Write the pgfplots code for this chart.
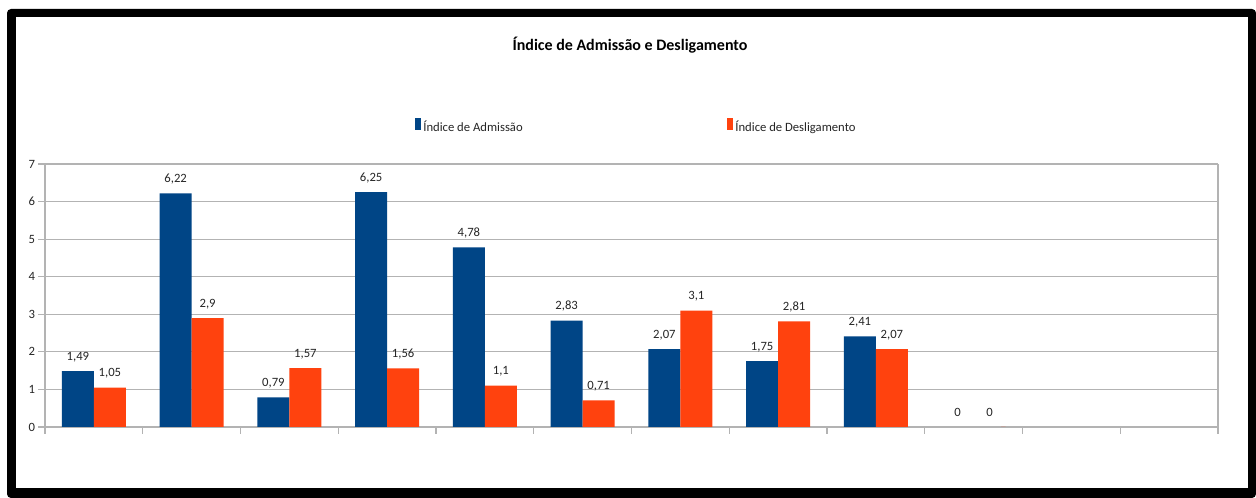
\documentclass[border=0pt]{standalone}
\usepackage{fontspec}
\setmainfont{Carlito}
\usepackage{pgfplots}
\pgfplotsset{compat=1.18}
\definecolor{adm}{HTML}{004586}
\definecolor{desl}{HTML}{FF420E}
\definecolor{gridc}{HTML}{B3B3B3}
\definecolor{txt}{HTML}{262626}
\begin{document}
\begin{tikzpicture}
\fill[white] (0pt,0pt) rectangle (942pt,373.5pt);
\fill[black,rounded corners=3pt] (5.25pt,0pt) rectangle (942pt,366.75pt);
\fill[white] (12pt,7.5pt) rectangle (936pt,360.75pt);
\begin{axis}[
  at={(33.75pt,53.25pt)}, anchor=south west,
  scale only axis, width=879.75pt, height=197.25pt,
  xmin=-0.5, xmax=11.5, ymin=0, ymax=7,
  ybar=0pt, bar width=24pt,
  xtick={-0.5,0.5,...,11.5}, xticklabels={},
  ytick={0,1,...,7}, ytick pos=left,
  tick align=outside, major tick length=5pt,
  ymajorgrids, grid style={gridc, line width=0.8pt},
  axis line style={gridc, line width=0.8pt},
  tick style={gridc, line width=0.8pt},
  axis x line*=bottom,
  /pgf/number format/assume math mode=true,
  tick label style={font=\fontsize{9.5}{11}\selectfont, text=txt},
  yticklabel style={xshift=1pt},
  nodes near coords={\pgfmathprintnumber[use comma,fixed,precision=2]{\pgfplotspointmeta}},
  every node near coord/.append style={font=\fontsize{9.5}{11}\selectfont, text=txt, anchor=base, yshift=8pt},
  title={\bfseries Índice de Admissão e Desligamento},
  title style={at={(rel axis cs:0.4987,1.422)}, anchor=center, font=\fontsize{12}{14}\selectfont, text=black},
  legend columns=2,
  legend style={at={(rel axis cs:0.3115,1.1407)}, anchor=west, draw=none, fill=none,
    font=\fontsize{9.5}{11}\selectfont, text=txt,
    /tikz/every even column/.append style={column sep=151pt}},
  legend image code/.code={\fill[#1] (0pt,-0.25em) rectangle (0.45em,0.65em);},
  clip=false,
]
\addplot[fill=adm, draw=none] coordinates {(0,1.49) (1,6.22) (2,0.79) (3,6.25) (4,4.78) (5,2.83) (6,2.07) (7,1.75) (8,2.41) (9,0)};
\addplot[fill=desl, draw=none] coordinates {(0,1.05) (1,2.9) (2,1.57) (3,1.56) (4,1.1) (5,0.71) (6,3.1) (7,2.81) (8,2.07) (9,0)};
\legend{Índice de Admissão, Índice de Desligamento}
\draw[gridc, line width=0.8pt] (rel axis cs:1,0) -- (rel axis cs:1,1);
\draw[gridc, line width=0.8pt] (rel axis cs:0.755,0) -- (rel axis cs:0.815,0);
\end{axis}
\end{tikzpicture}
\end{document}
